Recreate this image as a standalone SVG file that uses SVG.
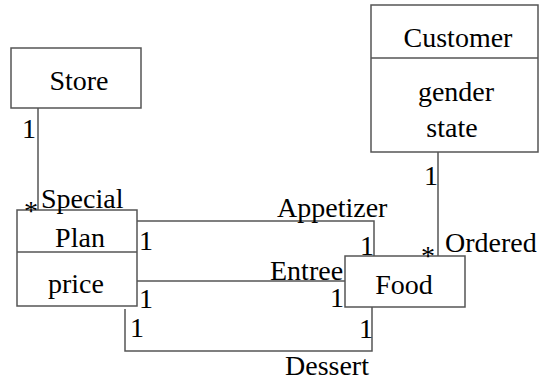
<svg xmlns="http://www.w3.org/2000/svg" width="539" height="381" viewBox="0 0 539 381">
<style>
.box{fill:#fff;stroke:#555;stroke-width:1.5}
.ln{fill:none;stroke:#555;stroke-width:1.5}
</style>
<rect width="539" height="381" fill="#fff"/>
<g id="connectors">
<polyline class="ln" points="38,108 38,211"/>
<polyline class="ln" points="137,221 374,221 374,256"/>
<polyline class="ln" points="137,281 345,281"/>
<polyline class="ln" points="125,309 125,351 372,351 372,307"/>
<polyline class="ln" points="438,152 438,256"/>
</g>
<g id="Store">
<rect class="box" x="11" y="48" width="130" height="60"/>
</g>
<g id="Customer">
<rect class="box" x="371" y="5" width="167" height="147"/>
<line class="ln" x1="371" y1="58" x2="538" y2="58"/>
</g>
<g id="Plan">
<rect class="box" x="17" y="210" width="120" height="96"/>
<line class="ln" x1="17" y1="252" x2="137" y2="252"/>
</g>
<g id="Food">
<rect class="box" x="345" y="256" width="120" height="51"/>
</g>
<text x="79" y="90" text-anchor="middle" font-family="Liberation Serif" font-size="28">Store</text>
<text x="458" y="47" text-anchor="middle" font-family="Liberation Serif" font-size="28">Customer</text>
<text x="456" y="101" text-anchor="middle" font-family="Liberation Serif" font-size="28">gender</text>
<text x="452" y="137" text-anchor="middle" font-family="Liberation Serif" font-size="28">state</text>
<text x="80" y="247" text-anchor="middle" font-family="Liberation Serif" font-size="28">Plan</text>
<text x="76" y="293" text-anchor="middle" font-family="Liberation Serif" font-size="28">price</text>
<text x="404" y="294" text-anchor="middle" font-family="Liberation Serif" font-size="28">Food</text>
<text x="22" y="138" font-family="Liberation Serif" font-size="28">1</text>
<text x="24" y="220" font-family="Liberation Serif" font-size="28">*</text>
<text x="41" y="208" font-family="Liberation Serif" font-size="28">Special</text>
<text x="277" y="217" font-family="Liberation Serif" font-size="28">Appetizer</text>
<text x="139" y="250" font-family="Liberation Serif" font-size="28">1</text>
<text x="360" y="255" font-family="Liberation Serif" font-size="28">1</text>
<text x="421" y="265" font-family="Liberation Serif" font-size="28">*</text>
<text x="445" y="252" font-family="Liberation Serif" font-size="28">Ordered</text>
<text x="424" y="185" font-family="Liberation Serif" font-size="28">1</text>
<text x="270" y="280" font-family="Liberation Serif" font-size="28">Entree</text>
<text x="139" y="308" font-family="Liberation Serif" font-size="28">1</text>
<text x="330" y="307" font-family="Liberation Serif" font-size="28">1</text>
<text x="130" y="337" font-family="Liberation Serif" font-size="28">1</text>
<text x="359" y="338" font-family="Liberation Serif" font-size="28">1</text>
<text x="285" y="375" font-family="Liberation Serif" font-size="28">Dessert</text>
</svg>
